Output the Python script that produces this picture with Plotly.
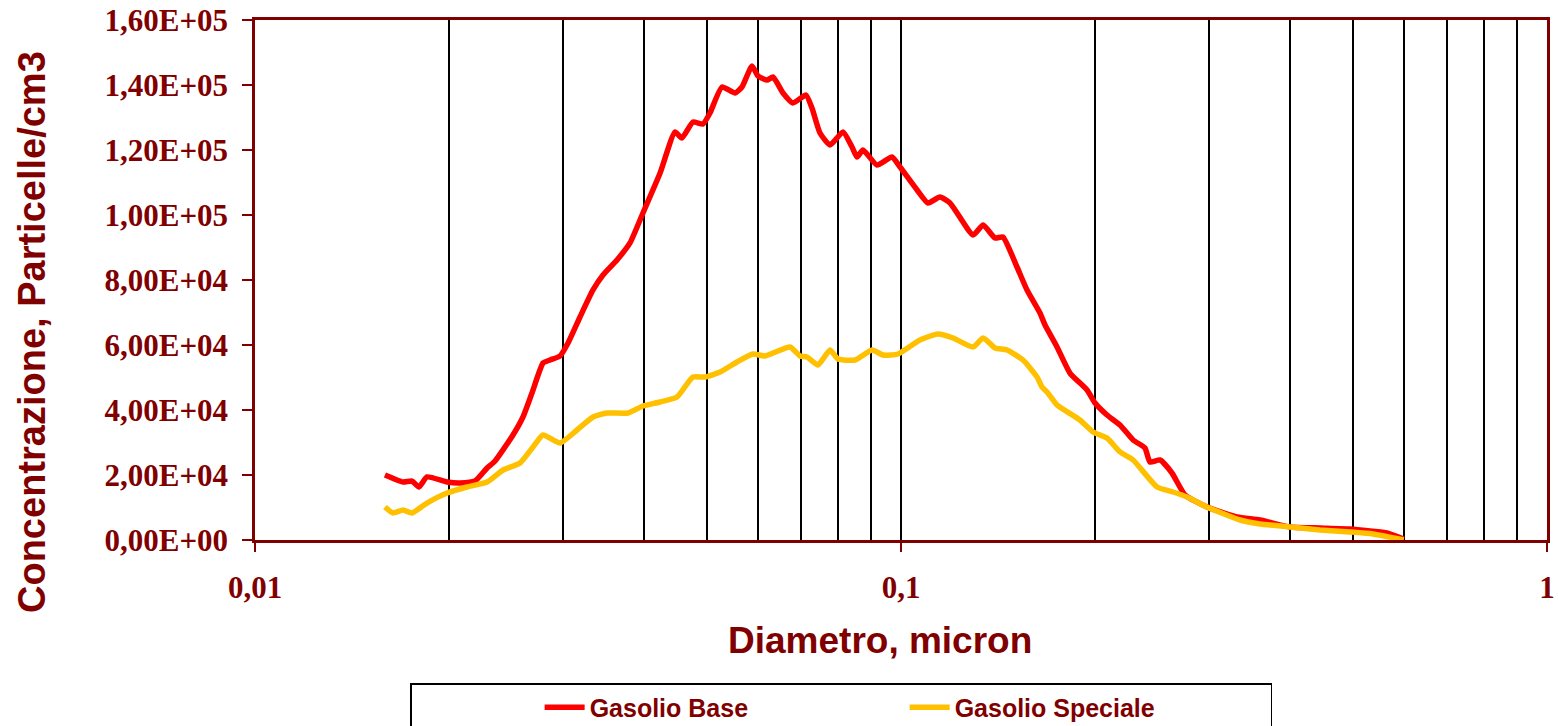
import plotly.graph_objects as go

# Gasolio Base (red)
base_d = [0.01589, 0.01695, 0.01750, 0.01794, 0.01846, 0.01983, 0.02077, 0.02191, 0.02287, 0.02353,
          0.02508, 0.02599, 0.02684, 0.02792, 0.02862, 0.02966, 0.03052, 0.03185, 0.03336, 0.03457,
          0.03634, 0.03806, 0.03986, 0.04237, 0.04469, 0.04581, 0.04764, 0.04937, 0.05062, 0.05284,
          0.05534, 0.05674, 0.05880, 0.06007, 0.06203, 0.06337, 0.06566, 0.06804, 0.07127, 0.07281,
          0.07492, 0.07764, 0.08132, 0.08398, 0.08549, 0.08734, 0.09180, 0.09685, 0.09965, 0.1059,
          0.1101, 0.1149, 0.1191, 0.1293, 0.1340, 0.1398, 0.1438, 0.1512, 0.1567, 0.1641,
          0.1671, 0.1744, 0.1826, 0.1941, 0.1997, 0.2084, 0.2183, 0.2287, 0.2386, 0.2429,
          0.2517, 0.2627, 0.2752, 0.2977, 0.3313, 0.3596, 0.4002, 0.4453, 0.4955, 0.5321,
          0.5653, 0.6000]
base_c = [20000, 17850, 18150, 16310, 19390, 17850, 17540, 18150, 22150, 24310,
          32310, 37850, 45230, 54460, 55390, 56620, 60620, 68620, 76930, 81540,
          86160, 91390, 100620, 112930, 125540, 123700, 128620, 128000, 131390, 139390,
          137540, 139390, 145850, 142770, 141540, 142460, 137540, 134460, 136920, 132920,
          125230, 121540, 125540, 120920, 117850, 120000, 115380, 117850, 114770, 107690,
          103690, 105540, 103690, 93850, 96920, 92920, 93230, 84000, 76920, 69850,
          66150, 59390, 51380, 46150, 42150, 38460, 35380, 30770, 28310, 24000,
          24620, 20620, 13850, 10150, 7080, 6150, 4000, 3690, 3380, 2770,
          2150, 300]

# Gasolio Speciale (yellow)
spec_d = [0.01589, 0.01635, 0.01695, 0.01750, 0.01846, 0.01983, 0.02129, 0.02287, 0.02421, 0.02572,
          0.02694, 0.02792, 0.02966, 0.03151, 0.03336, 0.03507, 0.03779, 0.03986, 0.04237, 0.04500,
          0.04764, 0.04973, 0.05246, 0.05573, 0.05901, 0.06159, 0.06733, 0.06978, 0.07152, 0.07439,
          0.07764, 0.07989, 0.08488, 0.09019, 0.09378, 0.09894, 0.1070, 0.1141, 0.1204, 0.1293,
          0.1340, 0.1398, 0.1459, 0.1545, 0.1624, 0.1653, 0.1683, 0.1744, 0.1892, 0.1983,
          0.2084, 0.2183, 0.2287, 0.2491, 0.2637, 0.2772, 0.2977, 0.3348, 0.3596, 0.4002,
          0.4453, 0.4955, 0.5379, 0.6000]
spec_c = [10150, 8310, 9230, 8310, 11380, 14460, 16310, 17850, 21540, 23690,
          28620, 32310, 29850, 33850, 37850, 39080, 39080, 41230, 42460, 44000,
          50150, 50150, 51690, 54770, 57230, 56620, 59390, 56620, 56310, 53850,
          58460, 55690, 55380, 58460, 56920, 57230, 61540, 63380, 62150, 59390,
          62150, 59080, 58460, 55380, 50150, 47080, 45540, 41540, 36920, 33230,
          31380, 27080, 24620, 16310, 14770, 13230, 10150, 6150, 4920, 4000,
          3080, 2460, 1850, 0]

series_names = ["Gasolio Base", "Gasolio Speciale"]
series_colors = ["#FF0000", "#FFC000"]

y_tickvals = [0, 20000, 40000, 60000, 80000, 100000, 120000, 140000, 160000]
y_ticktext = ["0,00E+00", "2,00E+04", "4,00E+04", "6,00E+04", "8,00E+04",
              "1,00E+05", "1,20E+05", "1,40E+05", "1,60E+05"]
x_tickvals = [0.01, 0.1, 1]
x_ticktext = ["0,01", "0,1", "1"]
x_minor_vals = [0.02, 0.03, 0.04, 0.05, 0.06, 0.07, 0.08, 0.09,
                0.2, 0.3, 0.4, 0.5, 0.6, 0.7, 0.8, 0.9]
x_title = "Diametro, micron"
y_title = "Concentrazione, Particelle/cm3"

DARK = "#800000"
SANS = "Liberation Sans, Arial, sans-serif"
TICKFONT = dict(family="Liberation Serif, Times New Roman, serif", size=31, color=DARK, weight="bold")

fig = go.Figure()
for xs, ys, name, col in [(base_d, base_c, series_names[0], series_colors[0]),
                          (spec_d, spec_c, series_names[1], series_colors[1])]:
    fig.add_trace(go.Scatter(x=xs, y=ys, mode="lines", name=name,
                             line=dict(color=col, width=5.5, shape="spline", smoothing=0.5)))

fig.update_layout(
    width=1558, height=726,
    margin=dict(l=255, r=11, t=20, b=186, autoexpand=False),
    plot_bgcolor="white", paper_bgcolor="white",
    showlegend=True,
    legend=dict(orientation="h", x=0.12, xanchor="left", y=-0.275, yanchor="top",
                bordercolor="black", borderwidth=1.5,
                font=dict(family=SANS, size=25, color=DARK, weight="bold"),
                title=dict(text="\u00a0" * 17, side="left", font=dict(family=SANS, size=25)),
                entrywidth=310, itemwidth=40),
    annotations=[
        dict(text=x_title, xref="paper", yref="paper", x=0.4837, y=-0.194,
             xanchor="center", yanchor="middle", showarrow=False,
             font=dict(family=SANS, size=37, color=DARK, weight="bold")),
        dict(text=y_title, xref="paper", yref="paper", x=-0.1726, y=0.40,
             xanchor="center", yanchor="middle", showarrow=False, textangle=-90,
             font=dict(family=SANS, size=38, color=DARK, weight="bold")),
    ],
)
fig.update_xaxes(
    type="log", range=[-2, 0], automargin=False,
    tickvals=x_tickvals, ticktext=x_ticktext,
    ticks="outside", ticklen=9, tickwidth=2, tickcolor=DARK,
    tickfont=TICKFONT, ticklabeloverflow="allow",
    showline=True, linecolor=DARK, linewidth=2.5, mirror=True,
    showgrid=True, gridcolor="black", gridwidth=1.5,
    minor=dict(tickvals=x_minor_vals, showgrid=True, gridcolor="black", gridwidth=1.5, ticks=""),
    zeroline=False,
    ticklabelstandoff=9,
)
fig.update_yaxes(
    range=[0, 160000], automargin=False,
    tickvals=y_tickvals, ticktext=y_ticktext,
    ticks="outside", ticklen=10, tickwidth=2, tickcolor=DARK,
    tickfont=TICKFONT, ticklabeloverflow="allow",
    showline=True, linecolor=DARK, linewidth=2.5, mirror=True,
    showgrid=False, zeroline=False,
    ticklabelstandoff=8,
)

fig.write_html("out.html", config={"displayModeBar": False},
               post_script="document.body.style.margin='0';")
